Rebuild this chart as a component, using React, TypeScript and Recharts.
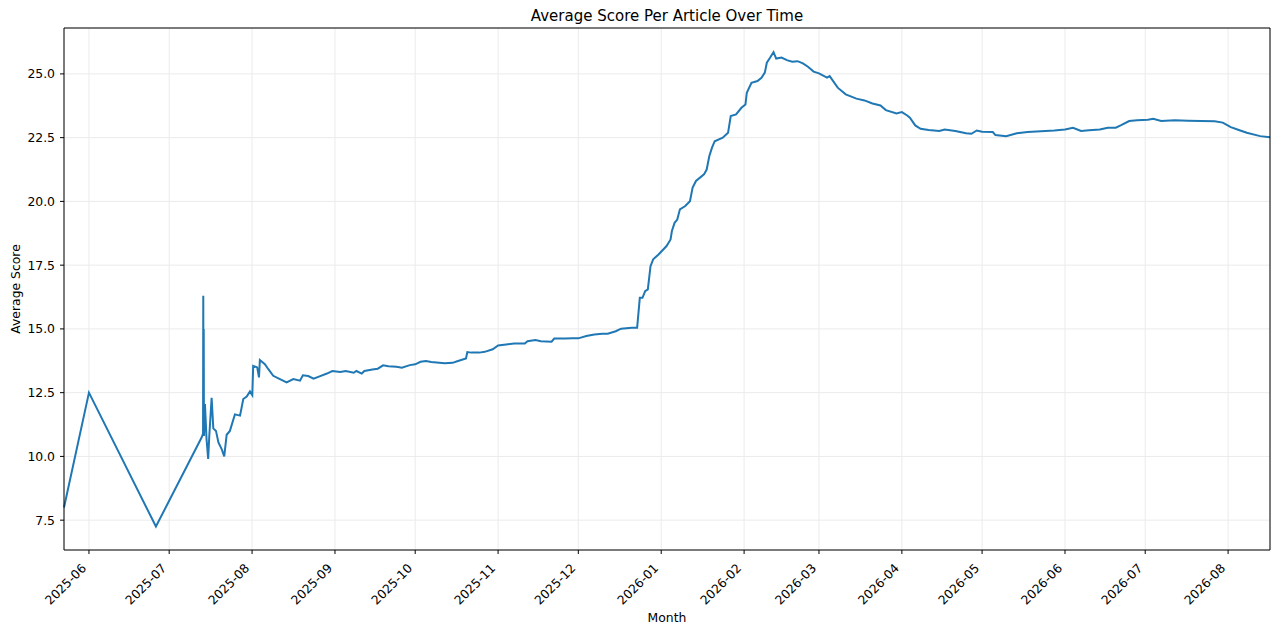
import React from 'react';
import { LineChart, Line, XAxis, YAxis, CartesianGrid, ReferenceLine } from 'recharts';

// Daily (and for the July spike, hourly) readings
const dates = [
  '2025-05-22T16:00', '2025-06-01', '2025-06-26T01:00', '2025-07-13T04:00', '2025-07-13T16:00',
  '2025-07-13T18:00', '2025-07-13T20:00', '2025-07-13T22:00', '2025-07-14', '2025-07-14T09:00',
  '2025-07-14T23:00', '2025-07-15T14:00', '2025-07-16', '2025-07-16T21:00', '2025-07-17T12:00',
  '2025-07-18T12:00', '2025-07-19T10:00', '2025-07-20T14:00', '2025-07-21T14:00', '2025-07-22T12:00',
  '2025-07-23T17:00', '2025-07-25', '2025-07-25T14:00', '2025-07-27T12:00', '2025-07-28T17:00',
  '2025-07-30', '2025-07-31T05:00', '2025-08-01T02:00', '2025-08-01T10:00', '2025-08-02T22:00',
  '2025-08-03T14:00', '2025-08-03T22:00', '2025-08-05T19:00', '2025-08-07T02:00', '2025-08-08T22:00',
  '2025-08-11T10:00', '2025-08-13T22:00', '2025-08-16T10:00', '2025-08-18T22:00', '2025-08-20',
  '2025-08-22', '2025-08-24', '2025-08-26', '2025-08-29', '2025-08-31',
  '2025-09-03', '2025-09-05', '2025-09-08', '2025-09-09', '2025-09-11',
  '2025-09-12', '2025-09-15', '2025-09-17', '2025-09-19', '2025-09-21',
  '2025-09-24', '2025-09-26', '2025-09-29', '2025-10-01', '2025-10-03',
  '2025-10-05', '2025-10-07', '2025-10-10', '2025-10-12', '2025-10-15',
  '2025-10-17', '2025-10-20', '2025-10-20T12:00', '2025-10-22', '2025-10-25',
  '2025-10-27', '2025-10-30', '2025-11-01', '2025-11-04', '2025-11-07',
  '2025-11-11', '2025-11-12', '2025-11-15', '2025-11-17', '2025-11-21',
  '2025-11-22', '2025-11-26', '2025-11-29', '2025-12-01', '2025-12-04',
  '2025-12-07', '2025-12-10', '2025-12-12', '2025-12-15', '2025-12-17',
  '2025-12-21', '2025-12-23', '2025-12-24', '2025-12-25', '2025-12-26',
  '2025-12-27', '2025-12-28', '2025-12-29', '2025-12-31', '2026-01-03',
  '2026-01-04T12:00', '2026-01-05', '2026-01-06', '2026-01-07', '2026-01-08',
  '2026-01-10', '2026-01-11T18:00', '2026-01-12T18:00', '2026-01-14', '2026-01-17',
  '2026-01-18', '2026-01-19', '2026-01-20', '2026-01-21', '2026-01-24',
  '2026-01-26', '2026-01-27', '2026-01-29', '2026-01-31', '2026-02-01T12:00',
  '2026-02-02', '2026-02-03T18:00', '2026-02-06', '2026-02-07T12:00', '2026-02-08T18:00',
  '2026-02-09T12:00', '2026-02-10T18:00', '2026-02-12', '2026-02-13', '2026-02-15',
  '2026-02-17', '2026-02-19', '2026-02-21', '2026-02-23', '2026-02-25',
  '2026-02-27', '2026-03-01', '2026-03-04', '2026-03-05', '2026-03-08',
  '2026-03-11', '2026-03-15', '2026-03-18', '2026-03-21', '2026-03-24',
  '2026-03-26', '2026-03-30', '2026-04-01', '2026-04-03', '2026-04-04',
  '2026-04-06', '2026-04-08', '2026-04-11', '2026-04-15', '2026-04-17',
  '2026-04-21', '2026-04-25', '2026-04-27', '2026-04-29', '2026-05-01',
  '2026-05-05', '2026-05-06', '2026-05-10', '2026-05-14', '2026-05-18',
  '2026-05-23', '2026-05-28', '2026-06-01', '2026-06-04', '2026-06-07',
  '2026-06-10', '2026-06-14', '2026-06-17', '2026-06-20', '2026-06-22',
  '2026-06-25', '2026-06-28', '2026-07-02', '2026-07-04', '2026-07-07',
  '2026-07-12', '2026-07-17', '2026-07-22', '2026-07-27', '2026-07-30',
  '2026-08-02', '2026-08-05', '2026-08-08', '2026-08-13', '2026-08-16T16:00',
];

const scores = [
  8.0, 12.5, 7.25, 10.75, 10.9,
  16.3, 10.8, 15.0, 10.8, 12.05,
  10.7, 9.9, 10.8, 12.3, 11.1,
  11.0, 10.55, 10.3, 10.0, 10.85,
  11.0, 11.45, 11.65, 11.6, 12.25,
  12.35, 12.55, 12.4, 13.55, 13.49,
  13.1, 13.78, 13.62, 13.42, 13.16,
  13.03, 12.9, 13.03, 12.97, 13.18,
  13.15, 13.05, 13.13, 13.25, 13.35,
  13.31, 13.35, 13.28, 13.35, 13.25,
  13.35, 13.41, 13.44, 13.57, 13.54,
  13.52, 13.48, 13.58, 13.61, 13.71,
  13.74, 13.7, 13.67, 13.65, 13.67,
  13.74, 13.84, 14.09, 14.07, 14.07,
  14.1, 14.2, 14.35, 14.39, 14.43,
  14.43, 14.52, 14.56, 14.52, 14.5,
  14.62, 14.62, 14.63, 14.63, 14.72,
  14.78, 14.81, 14.81, 14.91, 15.01,
  15.05, 15.05, 16.22, 16.22, 16.48,
  16.55, 17.46, 17.73, 17.92, 18.25,
  18.51, 18.84, 19.16, 19.29, 19.69,
  19.82, 20.01, 20.54, 20.8, 21.06,
  21.25, 21.78, 22.11, 22.36, 22.5,
  22.69, 23.35, 23.41, 23.67, 23.8,
  24.26, 24.65, 24.72, 24.85, 25.05,
  25.44, 25.64, 25.85, 25.6, 25.64,
  25.54, 25.48, 25.5, 25.41, 25.27,
  25.09, 25.02, 24.85, 24.91, 24.46,
  24.2, 24.03, 23.96, 23.84, 23.76,
  23.58, 23.45, 23.5, 23.37, 23.28,
  22.98, 22.85, 22.8, 22.76, 22.82,
  22.76, 22.67, 22.65, 22.78, 22.73,
  22.72, 22.6, 22.56, 22.67, 22.72,
  22.75, 22.78, 22.82, 22.89, 22.76,
  22.79, 22.82, 22.89, 22.89, 22.99,
  23.15, 23.18, 23.2, 23.24, 23.15,
  23.18, 23.16, 23.15, 23.14, 23.09,
  22.91, 22.8, 22.69, 22.56, 22.52,
];

const monthTicks = [
  '2025-06', '2025-07', '2025-08', '2025-09', '2025-10', '2025-11', '2025-12',
  '2026-01', '2026-02', '2026-03', '2026-04', '2026-05', '2026-06', '2026-07', '2026-08',
];

const scoreTicks = [7.5, 10.0, 12.5, 15.0, 17.5, 20.0, 22.5, 25.0];

const toTs = (s: string) => Date.parse(s.includes('T') ? s + ':00Z' : s + 'T00:00:00Z');

const data = dates.map((d, i) => ({ t: toTs(d), score: scores[i] }));
const tickTs = monthTicks.map(m => toTs(m + '-01'));
const xMin = data[0].t;
const xMax = data[data.length - 1].t;
const yMin = 6.33;
const yMax = 26.8;

const FONT = 'DejaVu Sans, sans-serif';
const TICK_SIZE = 12.4;

function MonthTick(props: any) {
  const { x, y, payload } = props;
  const d = new Date(payload.value);
  const label = `${d.getUTCFullYear()}-${String(d.getUTCMonth() + 1).padStart(2, '0')}`;
  return (
    <g transform={`translate(${x - 2},${y + 13}) rotate(-45)`}>
      <text x={0} y={0} textAnchor="end" fontSize={TICK_SIZE} fill="#000" fontFamily={FONT}>
        {label}
      </text>
    </g>
  );
}

function ScoreLabel(props: any) {
  const { viewBox } = props;
  const cx = viewBox.x + 20;
  const cy = viewBox.y + viewBox.height / 2;
  return (
    <text x={cx} y={cy} transform={`rotate(-90 ${cx} ${cy})`} textAnchor="middle"
      fontSize={TICK_SIZE} fill="#000" fontFamily={FONT}>
      Average Score
    </text>
  );
}

export default function App() {
  return (
    <div style={{ position: 'absolute', left: 0, top: 0, width: 1280, height: 634, background: '#fff' }}>
      <LineChart width={1280} height={634} data={data}
        margin={{ top: 28, right: 10, bottom: 0, left: 0 }}
        style={{ fontFamily: FONT }}>
        <CartesianGrid stroke="#ebebeb" strokeWidth={1} />
        <XAxis
          dataKey="t"
          type="number"
          domain={[xMin, xMax]}
          ticks={tickTs}
          interval={0}
          height={84}
          tick={<MonthTick />}
          tickSize={4}
          tickMargin={2}
          axisLine={{ stroke: '#000' }}
          tickLine={{ stroke: '#000' }}
          label={{ value: 'Month', position: 'insideBottom', offset: 12, fill: '#000', fontSize: TICK_SIZE, fontFamily: FONT }}
        />
        <YAxis
          type="number"
          domain={[yMin, yMax]}
          ticks={scoreTicks}
          interval={0}
          width={64}
          tickFormatter={(v: number) => v.toFixed(1)}
          tick={{ fontSize: TICK_SIZE, fill: '#000', fontFamily: FONT }}
          tickSize={4}
          tickMargin={5}
          axisLine={{ stroke: '#000' }}
          tickLine={{ stroke: '#000' }}
          label={<ScoreLabel />}
        />
        <Line
          type="linear"
          dataKey="score"
          stroke="#1f77b4"
          strokeWidth={2}
          dot={false}
          isAnimationActive={false}
        />
        <ReferenceLine
          y={yMax}
          stroke="#000"
          label={{ value: 'Average Score Per Article Over Time', position: 'top', offset: 7, fill: '#000', fontSize: 15, fontFamily: FONT }}
        />
        <ReferenceLine x={xMax} stroke="#000" />
      </LineChart>
    </div>
  );
}
